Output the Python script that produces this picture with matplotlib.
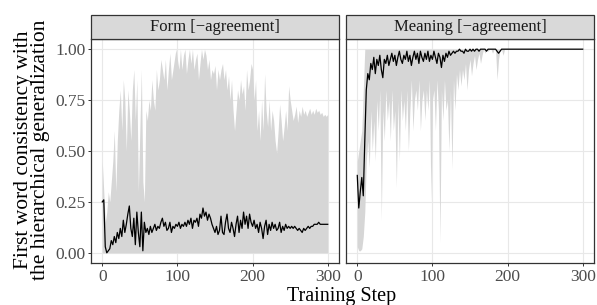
import numpy as np
import matplotlib.pyplot as plt
from matplotlib.patches import Rectangle

plt.rcParams['font.family'] = ['Liberation Serif', 'DejaVu Serif']

# Training steps (every 2nd step)
steps = list(range(0, 301, 2))

# Form [-agreement]: mean and upper edge of the ribbon (lower edge is 0)
form_mean = [
    0.25, 0.26, 0.03, 0.00, 0.01, 0.02, 0.06, 0.04, 0.08, 0.05,
    0.10, 0.07, 0.12, 0.08, 0.16, 0.10, 0.14, 0.19, 0.23, 0.12,
    0.08, 0.17, 0.04, 0.20, 0.10, 0.03, 0.20, 0.01, 0.15, 0.10,
    0.12, 0.09, 0.13, 0.10, 0.12, 0.14, 0.11, 0.13, 0.12, 0.15,
    0.17, 0.13, 0.15, 0.11, 0.12, 0.15, 0.10, 0.13, 0.12, 0.14,
    0.13, 0.15, 0.12, 0.14, 0.13, 0.15, 0.13, 0.16, 0.14, 0.17,
    0.12, 0.16, 0.15, 0.17, 0.13, 0.19, 0.17, 0.22, 0.18, 0.20,
    0.16, 0.19, 0.17, 0.14, 0.12, 0.10, 0.13, 0.09, 0.11, 0.18,
    0.10, 0.09, 0.15, 0.19, 0.12, 0.10, 0.15, 0.12, 0.08, 0.14,
    0.18, 0.10, 0.16, 0.12, 0.20, 0.14, 0.18, 0.12, 0.19, 0.15,
    0.13, 0.16, 0.12, 0.14, 0.10, 0.15, 0.12, 0.07, 0.13, 0.16,
    0.09, 0.14, 0.11, 0.15, 0.12, 0.14, 0.11, 0.12, 0.15, 0.10,
    0.13, 0.11, 0.14, 0.12, 0.13, 0.12, 0.13, 0.12, 0.13, 0.12,
    0.11, 0.12, 0.11, 0.10, 0.12, 0.11, 0.12, 0.13, 0.12, 0.13,
    0.13, 0.14, 0.14, 0.14, 0.15, 0.14, 0.14, 0.14, 0.14, 0.14,
    0.14,
]
form_upper = [
    0.45, 0.30, 0.15, 0.20, 0.30, 0.25, 0.35, 0.45, 0.60, 0.30,
    0.55, 0.70, 0.80, 0.60, 0.85, 0.75, 0.50, 0.80, 0.70, 0.55,
    0.80, 0.90, 0.65, 0.85, 0.30, 0.60, 0.90, 0.35, 0.25, 0.70,
    0.65, 0.75, 0.70, 0.85, 0.75, 0.70, 0.90, 0.80, 0.85, 0.95,
    0.90, 0.85, 0.95, 0.80, 0.90, 0.98, 0.85, 0.90, 0.95, 1.00,
    0.95, 0.90, 1.00, 0.90, 0.97, 1.00, 0.88, 0.95, 1.00, 0.93,
    1.00, 0.90, 0.95, 0.98, 0.85, 0.93, 1.00, 0.95, 1.00, 0.97,
    0.90, 0.95, 0.85, 0.90, 0.88, 0.92, 0.80, 0.90, 0.85, 0.90,
    0.93, 0.85, 0.90, 0.80, 0.87, 0.75, 0.85, 0.70, 0.60, 0.70,
    0.80, 0.75, 0.85, 0.78, 0.82, 0.70, 0.90, 0.80, 0.85, 0.93,
    0.90, 0.75, 0.85, 0.60, 0.70, 0.55, 0.75, 0.60, 0.88, 0.70,
    0.62, 0.75, 0.60, 0.70, 0.65, 0.55, 0.49, 0.60, 0.73, 0.65,
    0.55, 0.62, 0.70, 0.60, 0.82, 0.75, 0.70, 0.65, 0.68, 0.72,
    0.64, 0.70, 0.67, 0.72, 0.68, 0.70, 0.67, 0.69, 0.71, 0.68,
    0.70, 0.68, 0.71, 0.69, 0.70, 0.68, 0.69, 0.67, 0.68, 0.67,
    0.68,
]

# Meaning [-agreement]: mean, lower and upper edge of the ribbon
meaning_mean = [
    0.38, 0.22, 0.30, 0.37, 0.28, 0.55, 0.80, 0.88, 0.85, 0.93,
    0.90, 0.96, 0.88, 0.95, 0.92, 0.97, 0.90, 0.86, 0.95, 0.93,
    0.97, 0.92, 0.95, 0.98, 0.94, 0.97, 0.92, 0.96, 0.99, 0.95,
    0.93, 0.97, 0.95, 0.99, 0.94, 0.97, 0.92, 0.96, 0.99, 0.95,
    0.98, 0.93, 0.99, 0.96, 0.94, 0.98, 0.95, 0.99, 0.94, 0.97,
    0.95, 0.99, 0.96, 0.93, 0.98, 0.96, 0.91, 0.97, 0.94, 0.98,
    0.96, 0.99, 0.97, 0.98, 0.99, 0.98, 0.99, 0.99, 1.00, 0.99,
    0.99, 0.98, 1.00, 0.99, 0.99, 1.00, 0.99, 1.00, 0.99, 1.00,
    1.00, 0.99, 1.00, 1.00, 1.00, 1.00, 0.99, 1.00, 1.00, 1.00,
    1.00, 1.00, 1.00, 0.99, 0.98, 0.99, 1.00, 1.00, 1.00, 1.00,
] + [1.00] * 51
meaning_lower = [
    0.03, 0.01, 0.01, 0.02, 0.08, 0.20, 0.45, 0.55, 0.42, 0.70,
    0.50, 0.65, 0.45, 0.75, 0.60, 0.80, 0.16, 0.70, 0.55, 0.80,
    0.65, 0.75, 0.55, 0.80, 0.60, 0.70, 0.32, 0.75, 0.45, 0.80,
    0.65, 0.75, 0.60, 0.80, 0.50, 0.70, 0.85, 0.60, 0.75, 0.80,
    0.70, 0.85, 0.60, 0.75, 0.80, 0.65, 0.80, 0.70, 0.85, 0.25,
    0.75, 0.80, 0.60, 0.85, 0.70, 0.05, 0.80, 0.65, 0.85, 0.70,
    0.75, 0.50, 0.80, 0.41, 0.85, 0.70, 0.88, 0.80, 0.90, 0.82,
    0.90, 0.85, 0.93, 0.80, 0.90, 0.95, 0.87, 0.93, 0.97, 0.90,
    0.95, 0.98, 0.93, 0.97, 1.00, 0.98, 1.00, 0.99, 1.00, 1.00,
    0.98, 1.00, 1.00, 0.85, 0.95, 1.00, 1.00, 0.97, 1.00, 1.00,
] + [1.00] * 51
meaning_upper = [0.45, 0.50, 0.55, 0.60, 0.80] + [1.00] * 146

panels = [
    ("Form [\u2212agreement]", [0.0] * len(steps), form_upper, form_mean),
    ("Meaning [\u2212agreement]", meaning_lower, meaning_upper, meaning_mean),
]

W, H = 597, 305
fig = plt.figure(figsize=(W / 100, H / 100), dpi=100)

lefts = [91, 346]
pw = 248
top, bottom = 39, 263
strip_h = 24

for i, (title, lo, hi, mean) in enumerate(panels):
    x0 = lefts[i]
    ax = fig.add_axes([x0 / W, 1 - bottom / H, pw / W, (bottom - top) / H])
    ax.fill_between(steps, lo, hi, color='#d6d6d6', lw=0, zorder=2)
    ax.plot(steps, mean, color='black', lw=0.9, zorder=3)
    ax.set_xlim(-15, 315)
    ax.set_ylim(-0.05, 1.05)
    ax.set_xticks([0, 100, 200, 300])
    ax.set_yticks([0, 0.25, 0.5, 0.75, 1.0])
    ax.grid(True, color='#e8e8e8', lw=0.8, zorder=0)
    ax.set_axisbelow(True)
    for s in ax.spines.values():
        s.set_color('#333333')
        s.set_linewidth(0.9)
    ax.tick_params(colors='#333333', labelcolor='#4d4d4d', labelsize=12.5,
                   length=2.5, width=0.7, pad=1.5)
    if i == 0:
        ax.set_yticklabels(['0.00', '0.25', '0.50', '0.75', '1.00'])
    else:
        ax.set_yticklabels([])
        ax.tick_params(axis='y', length=0)
    # facet strip
    fig.patches.append(Rectangle((x0 / W, 1 - top / H), pw / W, strip_h / H,
                                 transform=fig.transFigure, facecolor='#d9d9d9',
                                 edgecolor='#333333', lw=0.9))
    fig.text((x0 + pw / 2) / W, 1 - (top - strip_h / 2) / H, title,
             ha='center', va='center', fontsize=12, color='#1a1a1a')

fig.text(342 / W, 1 - 296 / H, "Training Step", ha='center', va='center',
         fontsize=14.5)
fig.text(32 / W, 1 - 150 / H,
         "First word consistency with\nthe hierarchical generalization",
         ha='center', va='center', rotation=90, fontsize=15.5, linespacing=0.9)

fig.savefig('out.png', dpi=100)
